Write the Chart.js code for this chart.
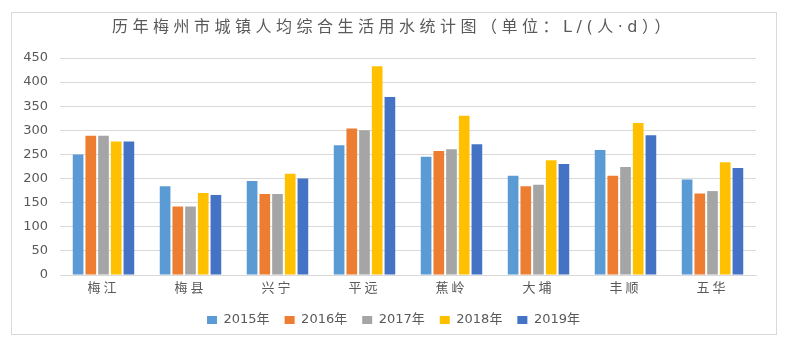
<!DOCTYPE html>
<html>
<head>
<meta charset="utf-8">
<script src="https://cdn.jsdelivr.net/npm/chart.js@4"></script>
<style>
  html, body { margin: 0; padding: 0; background: #fff; }
  #box { width: 787px; height: 346px; }
</style>
</head>
<body>
<div id="box"><canvas id="myChart" width="787" height="346"></canvas></div>
<script>
var categories = ['梅江', '梅县', '兴宁', '平远', '蕉岭', '大埔', '丰顺', '五华'];
var years = ['2015年', '2016年', '2017年', '2018年', '2019年'];
var v2015 = [250, 184, 195, 269, 245, 206, 259, 198];
var v2016 = [289, 142, 168, 304, 257, 184, 206, 169];
var v2017 = [289, 142, 168, 300, 261, 187, 224, 174];
var v2018 = [277, 170, 210, 433, 330, 238, 315, 234];
var v2019 = [277, 166, 200, 369, 271, 230, 290, 222];
var colors = ['#5B9BD5', '#ED7D31', '#A5A5A5', '#FFC000', '#4472C4'];

var latin = '"DejaVu Sans", "Noto Sans CJK SC", sans-serif';
var cjk = '"Noto Sans CJK SC", "DejaVu Sans", sans-serif';

// light grey frame round the whole chart
var frame = {
  id: 'frame',
  beforeDraw: function (chart) {
    var c = chart.ctx;
    c.save();
    c.fillStyle = '#fff';
    c.fillRect(0, 0, chart.width, chart.height);
    c.strokeStyle = '#d9d9d9';
    c.lineWidth = 1;
    c.strokeRect(11.5, 12.5, 765, 322);
    c.restore();
  }
};

var series = [v2015, v2016, v2017, v2018, v2019];
var datasets = series.map(function (d, i) {
  return {
    label: years[i],
    data: d,
    backgroundColor: colors[i],
    borderWidth: 0,
    categoryPercentage: 0.73,
    barPercentage: 0.84
  };
});

var ctx = document.getElementById('myChart').getContext('2d');
var chart = new Chart(ctx, {
  type: 'bar',
  data: { labels: categories, datasets: datasets },
  plugins: [frame],
  options: {
    responsive: false,
    animation: false,
    layout: { padding: { top: 0, right: 0, bottom: 9.5, left: 0 } },
    plugins: {
      title: {
        display: true,
        text: '历年梅州市城镇人均综合生活用水统计图（单位：L/(人·d））',
        color: '#595959',
        font: { family: latin, size: 16, weight: 'normal' },
        padding: { top: 18, bottom: 20.8 }
      },
      legend: {
        position: 'bottom',
        labels: {
          color: '#595959',
          font: { family: latin, size: 13 },
          boxWidth: 10,
          boxHeight: 8,
          padding: 15
        }
      },
      tooltip: { enabled: false }
    },
    scales: {
      x: {
        grid: { display: false },
        border: { display: true, color: '#d9d9d9' },
        ticks: { color: '#595959', font: { family: cjk, size: 13 }, padding: -4 },
        afterFit: function (s) { s.height = 23.5; }
      },
      y: {
        min: 0,
        max: 450,
        ticks: { stepSize: 50, color: '#595959', font: { family: latin, size: 13 }, padding: 12 },
        grid: { color: '#d9d9d9', drawTicks: false },
        border: { display: false },
        afterFit: function (s) { s.width = 60; }
      },
      // empty right-hand axis keeps the plot clear of the frame
      y2: {
        position: 'right',
        grid: { display: false },
        border: { display: false },
        ticks: { display: false },
        afterFit: function (s) { s.width = 31; }
      }
    }
  }
});

// wider letter spacing for the Chinese title and category names
function spaced(obj, method, gap) {
  var orig = obj[method];
  obj[method] = function () {
    var c = this.ctx;
    c.save();
    c.letterSpacing = gap;
    orig.apply(this, arguments);
    c.restore();
  };
}
spaced(chart.titleBlock, 'draw', '4.5px');
spaced(chart.scales.x, 'drawLabels', '3px');
chart.draw();
</script>
</body>
</html>
